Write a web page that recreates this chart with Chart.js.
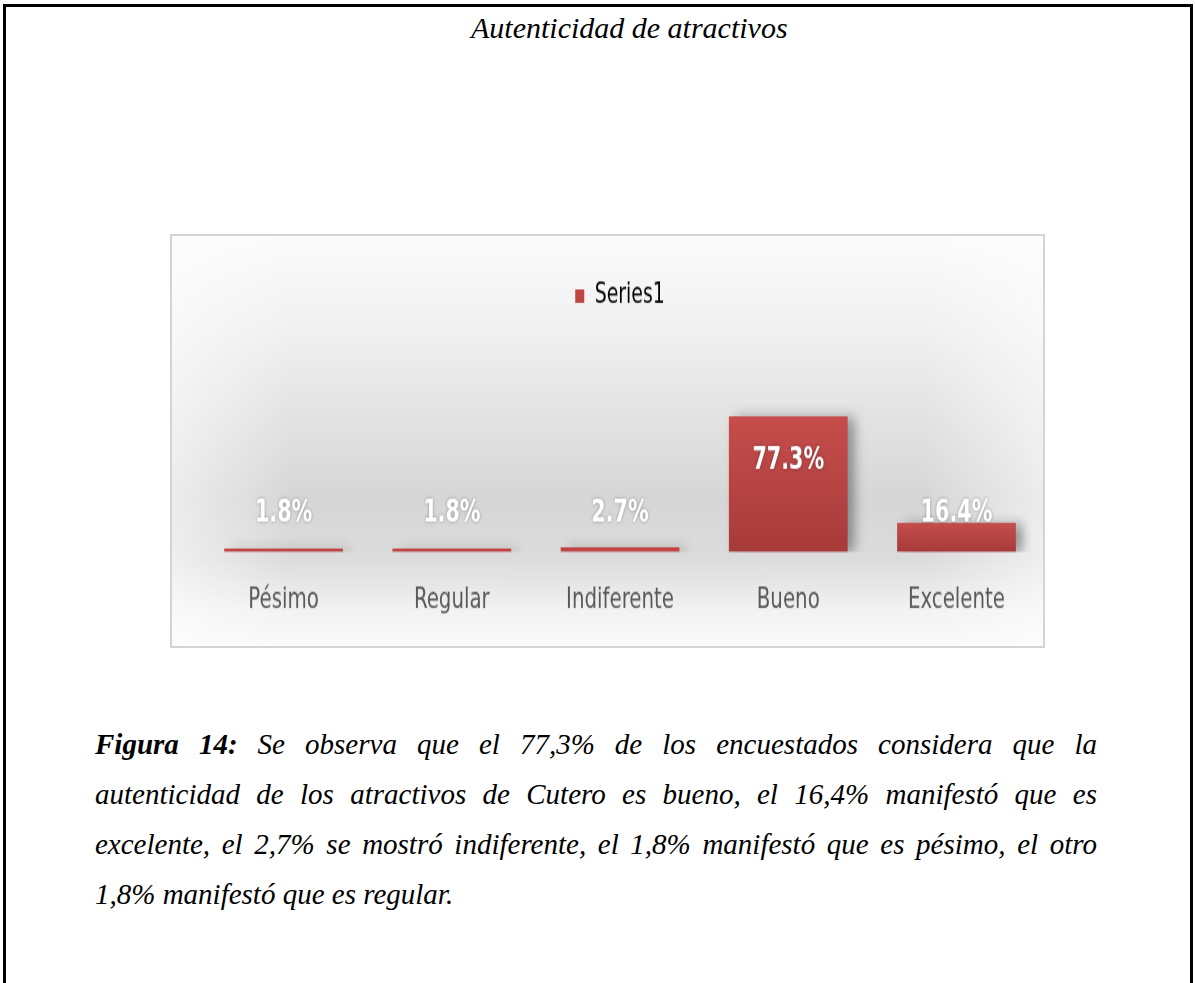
<!DOCTYPE html>
<html>
<head>
<meta charset="utf-8">
<script src="https://cdn.jsdelivr.net/npm/chart.js@4.4.0/dist/chart.umd.min.js"></script>
<style>
  html, body { margin: 0; padding: 0; background: #fff; }
  body { width: 1195px; height: 983px; position: relative; overflow: hidden; }
  #page {
    position: absolute; left: 3px; top: 4px; width: 1190px; height: 1100px;
    border: 3px solid #000; box-sizing: border-box;
  }
  #title {
    position: absolute; left: 471px; top: 13px; white-space: nowrap;
    font: italic 30px/30px "Liberation Serif", "Times New Roman", serif; color: #000;
  }
  #box {
    position: absolute; left: 170px; top: 234px; width: 875px; height: 414px; overflow: hidden;
    background: linear-gradient(to bottom, #fbfbfb 0%, #f1f1f1 22%, #e2e2e2 45%, #d6d6d6 64%, #dcdcdc 79%, #f2f2f2 91%, #fafafa 100%);
  }
  #shade {
    position: absolute; inset: 0;
    background: linear-gradient(to right, rgba(255,255,255,0.55) 0%, rgba(255,255,255,0) 14%, rgba(255,255,255,0) 86%, rgba(255,255,255,0.55) 100%);
  }
  /* the original chart is drawn tall and narrow: stretch the canvas vertically */
  #plot {
    position: absolute; left: 0; top: 0; width: 875px; height: 307px;
    transform: scaleY(1.35); transform-origin: 0 0;
  }
  #frame {
    position: absolute; left: 170px; top: 234px; width: 875px; height: 414px;
    border: 2px solid #d4d4d4; box-sizing: border-box; pointer-events: none;
  }
  #caption {
    position: absolute; left: 95px; top: 719px; width: 1002px;
    font: italic 29px/50px "Liberation Serif", "Times New Roman", serif; color: #000;
  }
  #caption .j { text-align: justify; text-align-last: justify; white-space: nowrap; }
  #caption .l { white-space: nowrap; }
</style>
</head>
<body>
<div id="page"></div>
<div id="title">Autenticidad de atractivos</div>
<div id="box">
  <div id="shade"></div>
  <div id="plot"><canvas id="chart" width="875" height="307"></canvas></div>
</div>
<div id="frame"></div>
<div id="caption">
  <div class="j"><b>Figura 14:</b> Se observa que el 77,3% de los encuestados considera que la</div>
  <div class="j">autenticidad de los atractivos de Cutero es bueno, el 16,4% manifestó que es</div>
  <div class="j">excelente, el 2,7% se mostró indiferente, el 1,8% manifestó que es pésimo, el otro</div>
  <div class="l">1,8% manifestó que es regular.</div>
</div>

<script>
"use strict";

// ── data ─────────────────────────────────
const categories = ["Pésimo", "Regular", "Indiferente", "Bueno", "Excelente"];
const seriesName = "Series1";
const values = [1.8, 1.8, 2.7, 77.3, 16.4];
const valueLabels = ["1.8%", "1.8%", "2.7%", "77.3%", "16.4%"];
const yMax = 130;

const NARROW = '"DejaVu Sans Condensed", "Liberation Sans Narrow", sans-serif';

// red bar fill, lighter at the top of each bar
function barFill(ctx) {
  const chart = ctx.chart;
  const y = chart.scales.y;
  if (!y || ctx.raw == null) return "#c0504d";
  const top = y.getPixelForValue(ctx.raw);
  const bottom = y.getPixelForValue(0);
  if (!isFinite(top) || bottom - top < 4) return "#bf4644";
  const g = chart.ctx.createLinearGradient(0, top, 0, bottom);
  g.addColorStop(0, "#c64e4c");
  g.addColorStop(1, "#a73b3a");
  return g;
}

// soft shadow behind the bars
const barShadow = {
  id: "barShadow",
  beforeDatasetsDraw(chart) {
    const c = chart.ctx;
    c.save();
    c.shadowColor = "rgba(0,0,0,0.35)";
    c.shadowBlur = 10;
    c.shadowOffsetX = 7;
    c.shadowOffsetY = 1;
  },
  afterDatasetsDraw(chart) {
    chart.ctx.restore();
  }
};

// value labels: inside end, never lower than a fixed height over the base
const valueLabelsPlugin = {
  id: "valueLabels",
  afterDatasetsDraw(chart) {
    const c = chart.ctx;
    const meta = chart.getDatasetMeta(0);
    c.save();
    c.font = "bold 23px " + NARROW;
    c.textAlign = "center";
    c.textBaseline = "middle";
    c.fillStyle = "#ffffff";
    c.shadowColor = "rgba(0,0,0,0.35)";
    c.shadowBlur = 3;
    meta.data.forEach((bar, i) => {
      const y = Math.min(bar.y + 33.6, bar.base - 28.6);
      c.fillText(valueLabels[i], bar.x, y);
    });
    c.restore();
  }
};

new Chart(document.getElementById("chart").getContext("2d"), {
  type: "bar",
  data: {
    labels: categories,
    datasets: [{
      label: seriesName,
      data: values,
      backgroundColor: barFill,
      borderWidth: 0,
      barPercentage: 0.706,
      categoryPercentage: 1.0
    }]
  },
  options: {
    responsive: false,
    animation: false,
    devicePixelRatio: 1,
    layout: { padding: { top: 25.4, left: 29.5, right: 4.4, bottom: 8 } },
    plugins: {
      tooltip: { enabled: false },
      legend: {
        position: "top",
        labels: {
          color: "#595959",
          font: { family: NARROW, size: 21 },
          boxWidth: 9,
          boxHeight: 10,
          padding: 10,
          generateLabels: () => [{
            text: seriesName,
            fillStyle: "#bf4644",
            strokeStyle: "rgba(0,0,0,0)",
            lineWidth: 0,
            datasetIndex: 0
          }]
        }
      }
    },
    scales: {
      x: {
        grid: { display: false },
        border: { display: false },
        ticks: { color: "#595959", font: { family: NARROW, size: 22 }, padding: 14.6 }
      },
      y: { display: false, min: 0, max: yMax }
    }
  },
  plugins: [barShadow, valueLabelsPlugin]
});
</script>
</body>
</html>
